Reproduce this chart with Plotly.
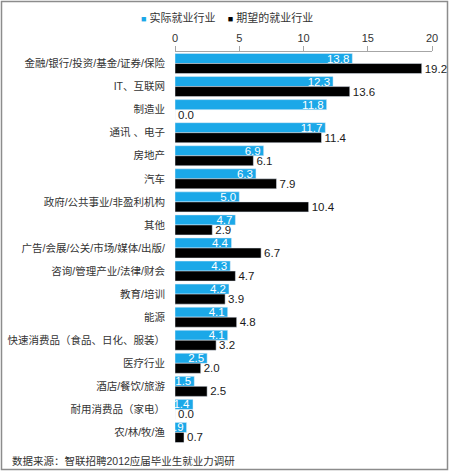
import plotly.graph_objects as go

# industries, top to bottom
industries = [
    "金融/银行/投资/基金/证券/保险",
    "IT、互联网",
    "制造业",
    "通讯 、电子",
    "房地产",
    "汽车",
    "政府/公共事业/非盈利机构",
    "其他",
    "广告/会展/公关/市场/媒体/出版/",
    "咨询/管理产业/法律/财会",
    "教育/培训",
    "能源",
    "快速消费品（食品、日化、服装）",
    "医疗行业",
    "酒店/餐饮/旅游",
    "耐用消费品（家电）",
    "农/林/牧/渔",
]

# share of graduates, %
actual = [13.8, 12.3, 11.8, 11.7, 6.9, 6.3, 5.0, 4.7, 4.4, 4.3, 4.2, 4.1, 4.1, 2.5, 1.5, 1.4, 0.9]
expected = [19.2, 13.6, 0.0, 11.4, 6.1, 7.9, 10.4, 2.9, 6.7, 4.7, 3.9, 4.8, 3.2, 2.0, 2.5, 0.0, 0.7]
series_names = ["实际就业行业", "期望的就业行业"]

BLUE = "#1BA8E8"
FONT = "Liberation Sans, Noto Sans CJK SC, sans-serif"

W, H = 450, 472
ML, MR, MT, MB = 175, 18, 52, 28
pw = W - ML - MR
ph = H - MT - MB

fig = go.Figure()
fig.add_trace(go.Bar(
    y=industries, x=actual, orientation="h", name=series_names[0],
    marker_color=BLUE,
    text=[f"{v:.1f}" for v in actual],
    textposition="inside", insidetextanchor="end",
    insidetextfont=dict(color="white", size=11.5, family=FONT),
    cliponaxis=False,
))
fig.add_trace(go.Bar(
    y=industries, x=expected, orientation="h", name=series_names[1],
    marker_color="black",
    text=[f"{v:.1f}" for v in expected],
    textposition="outside",
    outsidetextfont=dict(color="#1a1a1a", size=11.5, family=FONT),
    cliponaxis=False,
))

def px_x(p):
    return (p - ML) / pw

def px_y(p):
    return (H - MB - p) / ph

# grey frame round the whole picture
fig.add_shape(type="rect", xref="paper", yref="paper",
              x0=px_x(1.5), x1=px_x(447.5), y0=px_y(469.5), y1=px_y(1.5),
              line=dict(color="#8c8c8c", width=1.5), layer="below")

# compact legend, drawn as text like the original
legend_txt = (f"<span style='color:{BLUE};font-size:9px'>■</span> {series_names[0]}"
              f"&nbsp;&nbsp;&nbsp;&nbsp;<span style='color:black;font-size:9px'>■</span> {series_names[1]}")
fig.add_annotation(text=legend_txt, xref="paper", yref="paper",
                   x=px_x(227), y=px_y(18), xanchor="center", yanchor="middle",
                   showarrow=False, font=dict(size=11, color="#333333", family=FONT))

fig.add_annotation(text="数据来源：智联招聘2012应届毕业生就业力调研",
                   xref="paper", yref="paper", x=px_x(10), y=px_y(461),
                   xanchor="left", yanchor="middle", showarrow=False,
                   font=dict(size=10.5, color="#333333", family=FONT))

fig.update_layout(
    width=W, height=H,
    margin=dict(l=ML, r=MR, t=MT, b=MB),
    paper_bgcolor="white", plot_bgcolor="white",
    barmode="group", bargap=0.13, bargroupgap=0,
    font=dict(family=FONT, size=11, color="#333333"),
    uniformtext=dict(minsize=11.5, mode="show"),
    showlegend=False,
)
fig.update_xaxes(side="top", range=[0, 20], dtick=5, showgrid=False,
                 zeroline=False, showline=True, linecolor="#a6a6a6",
                 ticks="outside", ticklen=5, tickcolor="#a6a6a6",
                 tickfont=dict(size=11, color="#333333"), automargin=False)
fig.update_yaxes(autorange="reversed", showgrid=False, showline=False,
                 ticks="", ticklabelstandoff=9, automargin=False,
                 tickfont=dict(size=10.5, color="#333333"))

# page has a default 8px body margin, drop it so the figure fills the window
fig.write_html("out.html", config={"displayModeBar": False},
               post_script="document.body.style.margin='0';")
